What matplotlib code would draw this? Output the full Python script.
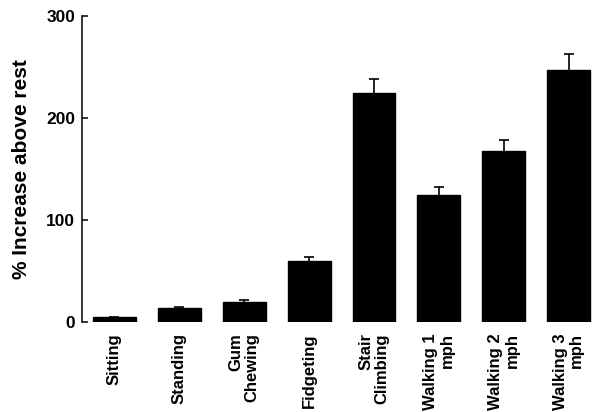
import numpy
import matplotlib
matplotlib.use('Agg')
import matplotlib.pyplot as plt

# activities, mean % increase above rest and upper error (SEM)
activities = ['Sitting', 'Standing', 'Gum\nChewing', 'Fidgeting', 'Stair\nClimbing',
              'Walking 1\nmph', 'Walking 2\nmph', 'Walking 3\nmph']
increase = [4.5, 13.5, 20, 60, 225, 124.5, 167.5, 247.5]
sem = [0.8, 1.5, 1.3, 3.5, 13, 7.5, 10.5, 15.5]
y_ticks = [0, 100, 200, 300]


def draw_graph(names, values, errors):

    """
    Столбчатая диаграмма с планками погрешностей (только вверх).
    """

    plt.rcParams['font.family'] = ['Liberation Sans', 'DejaVu Sans']
    plt.rcParams['font.weight'] = 'bold'

    fig = plt.figure(figsize=(5.94, 4.12), dpi=100)
    ax = fig.add_axes([82 / 594, 90 / 412, 1 - 82 / 594, 306 / 412])

    x = numpy.arange(len(names))
    ax.bar(x, values, width=0.66, color='black', edgecolor='black')
    _, caps, _ = ax.errorbar(x, values, yerr=[numpy.zeros(len(errors)), errors], fmt='none',
                             ecolor='black', elinewidth=1.2, capsize=3.6, capthick=1.2,
                             clip_on=False)
    # нижние "усики" не нужны
    caps[0].set_visible(False)

    ax.set_xlim(-0.5, 7.39)
    ax.set_ylim(0, 300)
    ax.set_yticks(y_ticks)

    ax.set_xticks(x)
    ax.set_xticklabels(names, rotation=90, ha='center', va='top',
                       multialignment='right', fontsize=12, fontweight='bold',
                       linespacing=1.1)
    ax.tick_params(axis='x', length=0, pad=8)
    ax.tick_params(axis='y', direction='in', length=4, width=1.1, pad=5,
                   labelsize=12.5)

    for side in ['top', 'right', 'bottom']:
        ax.spines[side].set_visible(False)
    ax.spines['left'].set_linewidth(1.1)

    ax.set_ylabel('% Increase above rest', fontsize=15, fontweight='bold')
    ax.yaxis.set_label_coords(-0.10, 0.5)

    fig.savefig('out.png', dpi=100, facecolor='white')


if __name__ == '__main__':

    draw_graph(activities, increase, sem)
